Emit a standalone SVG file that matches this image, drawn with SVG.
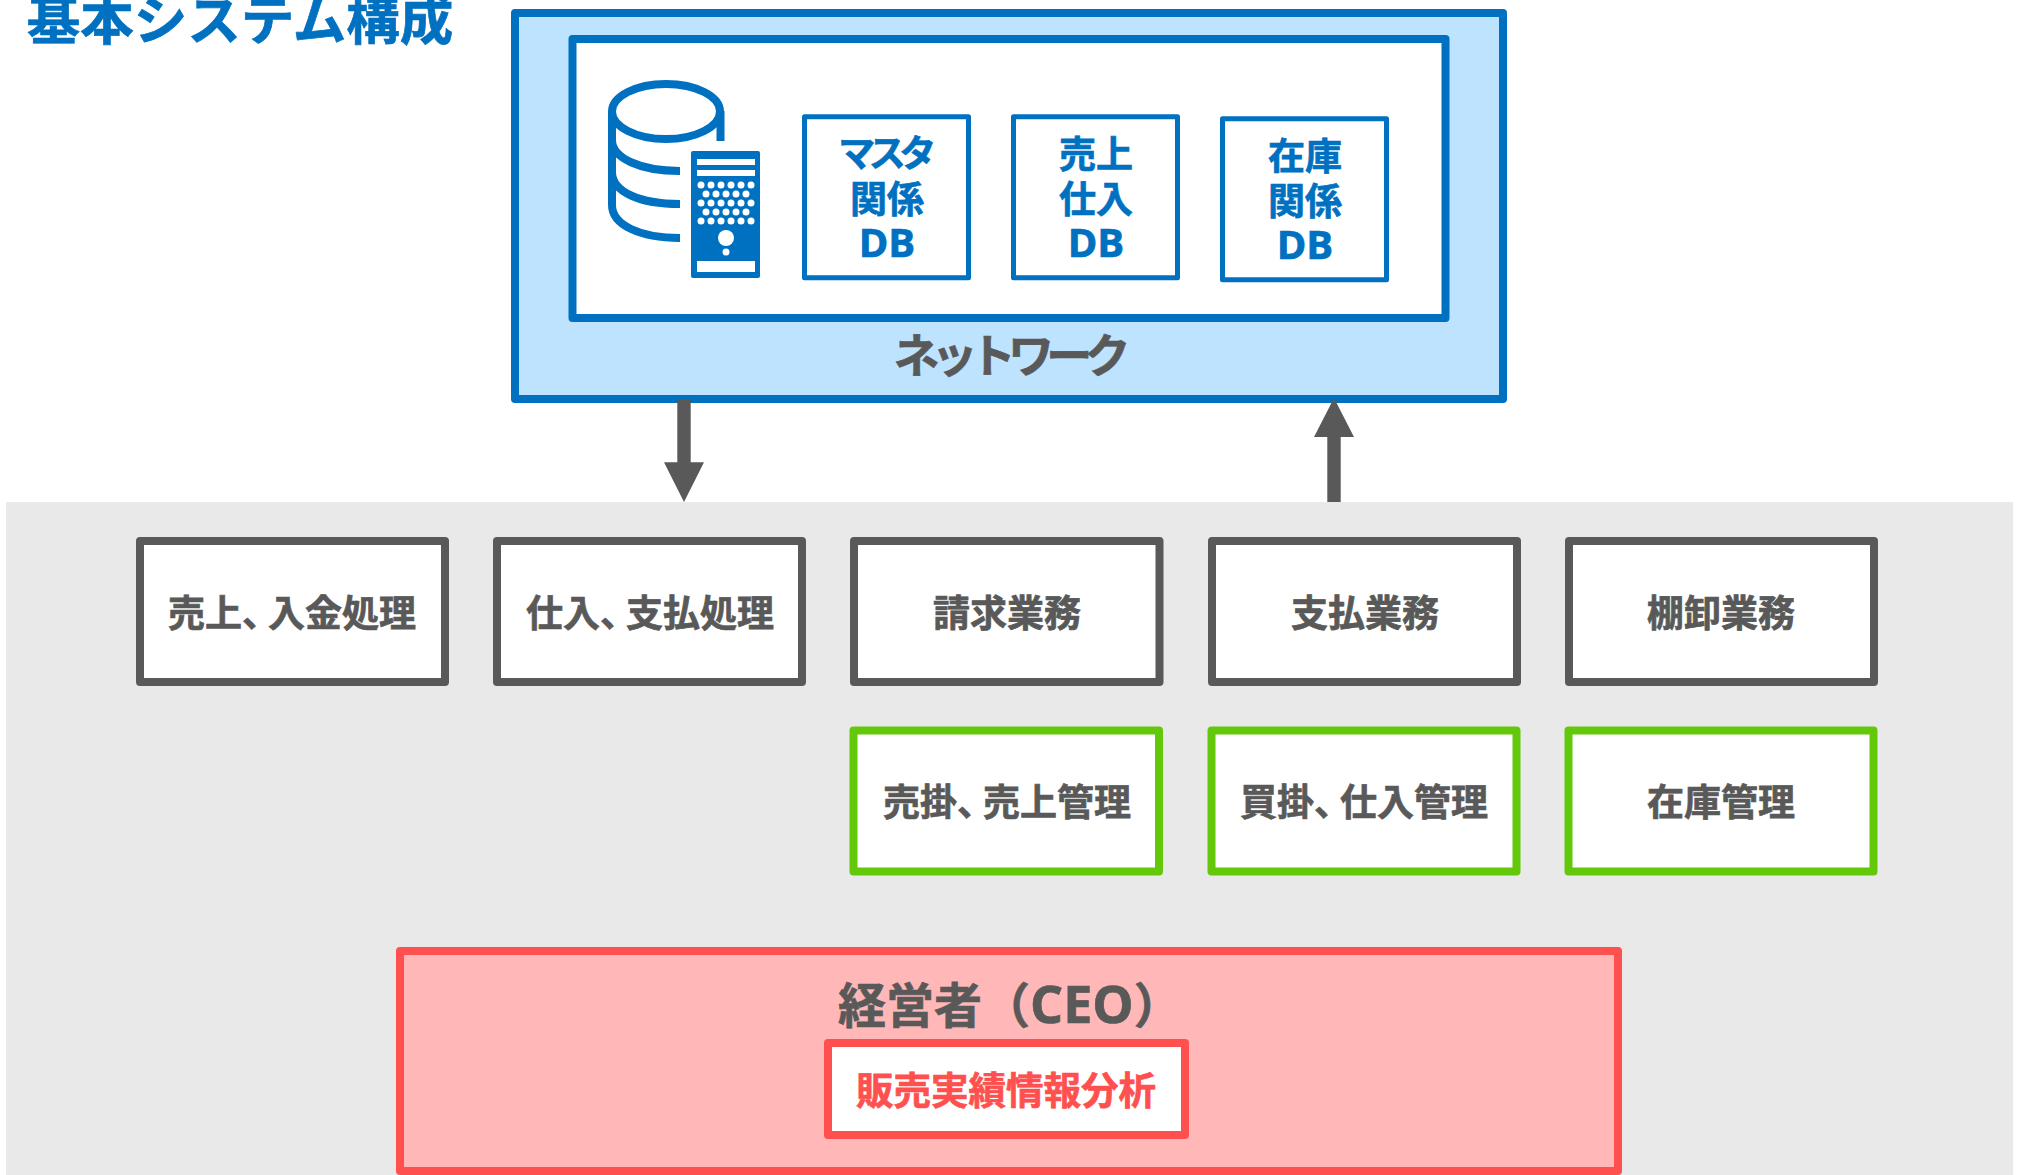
<svg xmlns="http://www.w3.org/2000/svg" width="2017" height="1175" viewBox="0 0 2017 1175">
<style>
text{font-family:"Noto Sans CJK JP","Noto Sans",sans-serif;font-weight:700;text-anchor:middle;stroke-width:.7;paint-order:stroke}
.b{fill:#0070c0;stroke:#0070c0}
.g{fill:#595959;stroke:#595959}
.r{fill:#ff5050;stroke:#ff5050}
.l{font-size:37px}
.d{font-size:37px}
.k{font-size:37px;letter-spacing:-6.500px}
.big{font-size:46px}
.lat{font-family:"Open Sans","Noto Sans",sans-serif}
.dbl{font-size:40px}
.box{fill:#fff;stroke-width:8;stroke-linejoin:round}
.gr{stroke:#595959}
.gn{stroke:#63c80a}
.db{fill:#fff;stroke:#0070c0;stroke-width:5;stroke-linejoin:round}
</style>
<rect x="6" y="502" width="2007" height="673" fill="#e9e9e9"/>
<text id="title" class="b" x="240" y="40" style="font-size:53.500px">基本システム構成</text>
<g id="network">
<rect x="515" y="13" width="988" height="386" fill="#bde3ff" stroke="#0070c0" stroke-width="8" stroke-linejoin="round"/>
<text class="g big" x="1008" y="372" style="letter-spacing:-7.800px">ネットワーク</text>
</g>
<g id="db-area">
<rect x="572.500" y="39" width="873" height="279" class="box" stroke="#0070c0"/>
</g>
<g id="db-icon" fill="none" stroke="#0070c0" stroke-width="8">
<ellipse cx="666" cy="111.500" rx="54" ry="27.500"/>
<path d="M612 111V205C612 225 640 238 680 238M612 172C612 192 640 204 680 204M612 140C612 158 640 171 680 171M720.500 111V141"/>
<rect x="691" y="151" width="69" height="127" rx="2" fill="#0070c0" stroke="none"/>
<path d="M697 162H755M697 173H755" stroke="#fff" stroke-width="6"/>
<path d="M697 266.500H755" stroke="#fff" stroke-width="11"/>
<g fill="#fff" stroke="none">
<circle cx="701" cy="185" r="3.500"/><circle cx="711" cy="185" r="3.500"/><circle cx="721" cy="185" r="3.500"/><circle cx="731" cy="185" r="3.500"/><circle cx="741" cy="185" r="3.500"/><circle cx="751" cy="185" r="3.500"/>
<circle cx="706" cy="194" r="3.500"/><circle cx="716" cy="194" r="3.500"/><circle cx="726" cy="194" r="3.500"/><circle cx="736" cy="194" r="3.500"/><circle cx="746" cy="194" r="3.500"/>
<circle cx="701" cy="203" r="3.500"/><circle cx="711" cy="203" r="3.500"/><circle cx="721" cy="203" r="3.500"/><circle cx="731" cy="203" r="3.500"/><circle cx="741" cy="203" r="3.500"/><circle cx="751" cy="203" r="3.500"/>
<circle cx="706" cy="212" r="3.500"/><circle cx="716" cy="212" r="3.500"/><circle cx="726" cy="212" r="3.500"/><circle cx="736" cy="212" r="3.500"/><circle cx="746" cy="212" r="3.500"/>
<circle cx="701" cy="221" r="3.500"/><circle cx="711" cy="221" r="3.500"/><circle cx="721" cy="221" r="3.500"/><circle cx="731" cy="221" r="3.500"/><circle cx="741" cy="221" r="3.500"/><circle cx="751" cy="221" r="3.500"/>
<circle cx="726" cy="238" r="8"/><circle cx="726" cy="252" r="3.500"/>
</g>
</g>
<g id="db1"><rect x="804.500" y="116.800" width="164" height="161" class="db"/><text class="b k" x="884" y="167">マスタ</text><text class="b d" x="887" y="212.500">関係</text><text class="b dbl lat" x="887" y="257">DB</text></g>
<g id="db2"><rect x="1013.500" y="116.800" width="164" height="161" class="db"/><text class="b d" x="1096" y="167.500">売上</text><text class="b d" x="1096" y="212.500">仕入</text><text class="b dbl lat" x="1096" y="257">DB</text></g>
<g id="db3"><rect x="1222.500" y="118.800" width="164" height="161" class="db"/><text class="b d" x="1305" y="169.500">在庫</text><text class="b d" x="1305" y="214.500">関係</text><text class="b dbl lat" x="1305" y="259">DB</text></g>
<g id="connectors" fill="#595959">
<path d="M677.300 399h13.400v63.300h13.300l-20 39.700l-20-39.700h13.300z"/>
<path d="M1327.300 502v-65h-13.300l20-39l20 39h-13.300v65z"/>
</g>
<g id="n1"><rect x="140" y="541" width="305" height="141" class="box gr"/><text class="g l" x="292" y="627">売上、<tspan dx="-11">入金処理</tspan></text></g>
<g id="n2"><rect x="497" y="541" width="305" height="141" class="box gr"/><text class="g l" x="650" y="627">仕入、<tspan dx="-11">支払処理</tspan></text></g>
<g id="n3"><rect x="854" y="541" width="305.500" height="141" class="box gr"/><text class="g l" x="1007" y="627">請求業務</text></g>
<g id="n4"><rect x="1212" y="541" width="305" height="141" class="box gr"/><text class="g l" x="1365" y="627">支払業務</text></g>
<g id="n5"><rect x="1569" y="541" width="305" height="141" class="box gr"/><text class="g l" x="1721" y="627">棚卸業務</text></g>
<g id="n6"><rect x="853.500" y="730.500" width="305.500" height="141" class="box gn"/><text class="g l" x="1007" y="816">売掛、<tspan dx="-11">売上管理</tspan></text></g>
<g id="n7"><rect x="1211.500" y="730.500" width="305" height="141" class="box gn"/><text class="g l" x="1364" y="816">買掛、<tspan dx="-11">仕入管理</tspan></text></g>
<g id="n8"><rect x="1568.500" y="730.500" width="305" height="141" class="box gn"/><text class="g l" x="1721" y="816">在庫管理</text></g>
<g id="ceo"><rect x="400" y="951" width="1218" height="220" fill="#ffb7b7" stroke="#ff5050" stroke-width="8" stroke-linejoin="round"/><text class="g" x="838" y="1023" style="font-size:48px;text-anchor:start">経営者（<tspan class="lat" style="font-size:52px">CEO</tspan>）</text></g>
<g id="analysis"><rect x="828" y="1043" width="357" height="92" class="box" stroke="#ff5050"/><text class="r" x="1006" y="1104" style="font-size:37.500px">販売実績情報分析</text></g>
</svg>
